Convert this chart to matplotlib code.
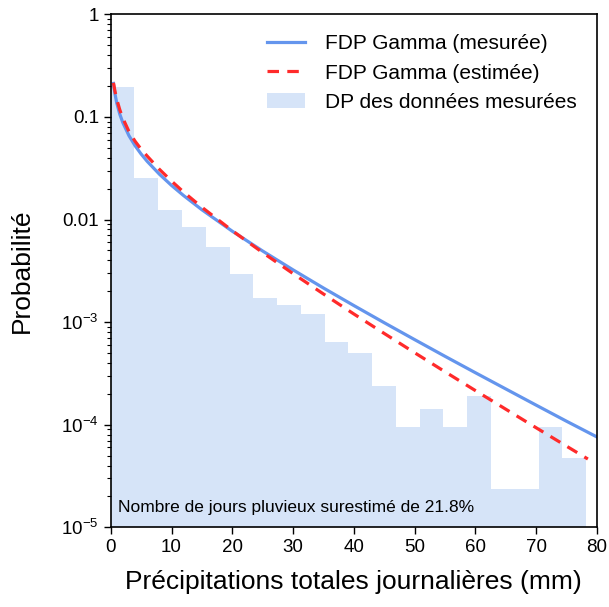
import numpy as np
import matplotlib
matplotlib.use("Agg")
import matplotlib.pyplot as plt
from matplotlib.ticker import FixedLocator, FixedFormatter, LogLocator, NullFormatter

plt.rcParams["font.family"] = ["Liberation Sans", "DejaVu Sans"]
plt.rcParams["mathtext.fontset"] = "custom"
plt.rcParams["mathtext.rm"] = "Liberation Sans"
plt.rcParams["mathtext.it"] = "Liberation Sans"

# histogramme des données mesurées (20 classes de 3.91 mm)
bin_width = 3.91
hist_vals = [0.195, 0.0252, 0.0124, 0.0084, 0.00536, 0.00294, 0.00171, 0.00147,
             0.0012, 0.000635, 0.0005, 0.000238, 9.5e-5, 1.43e-4, 9.5e-5, 1.9e-4,
             2.38e-5, 2.38e-5, 9.5e-5, 4.77e-5]

# FDP Gamma (mesurée)
x_mes = [0.45, 0.7, 1, 1.5, 2, 3, 4, 5, 6, 8, 10, 12, 15, 20, 25, 30, 35, 40,
         45, 50, 55, 60, 65, 70, 75, 80]
y_mes = [0.212, 0.168, 0.136, 0.106, 0.0878, 0.0657, 0.0525, 0.0435, 0.0369,
         0.0277, 0.0215, 0.0171, 0.01245, 0.00769, 0.00493, 0.00323, 0.00215,
         0.00145, 9.86e-4, 6.75e-4, 4.64e-4, 3.21e-4, 2.23e-4, 1.55e-4,
         1.08e-4, 7.59e-5]

# FDP Gamma (estimée)
x_est = [0.45, 0.7, 1, 1.5, 2, 3, 4, 5, 6, 8, 10, 12, 15, 20, 25, 30, 35, 40,
         45, 50, 55, 60, 65, 70, 75, 78.5]
y_est = [0.215, 0.178, 0.148, 0.117, 0.097, 0.072, 0.058, 0.0485, 0.0415,
         0.0309, 0.0237, 0.0185, 0.01317, 0.00778, 0.00476, 0.00297, 0.00188,
         0.0012, 7.75e-4, 5.03e-4, 3.28e-4, 2.15e-4, 1.415e-4, 9.33e-5,
         6.17e-5, 4.63e-5]

ytick_vals = [1e-5, 1e-4, 1e-3, 1e-2, 1e-1, 1]
ytick_txt = ["$10^{-5}$", "$10^{-4}$", "$10^{-3}$", "0.01", "0.1", "1"]

fig = plt.figure(figsize=(6.09, 6.07), dpi=100)
ax = fig.add_axes([0.1818, 0.1313, 0.7985, 0.8451])

edges = np.arange(len(hist_vals)) * bin_width
ax.bar(edges, hist_vals, width=bin_width, align="edge", color="#d6e4f8",
       edgecolor="none", label="DP des données mesurées", zorder=1)
ax.plot(x_mes, y_mes, color="#6495ed", lw=2.3, label="FDP Gamma (mesurée)", zorder=2)
ax.plot(x_est, y_est, color="#ff2a2a", lw=2.3, ls=(0, (3.6, 2.6)),
        label="FDP Gamma (estimée)", zorder=3)

ax.set_yscale("log")
ax.set_xlim(0, 80)
ax.set_ylim(1e-5, 1)
ax.yaxis.set_major_locator(FixedLocator(ytick_vals))
ax.yaxis.set_major_formatter(FixedFormatter(ytick_txt))
ax.yaxis.set_minor_locator(LogLocator(base=10, subs=np.arange(2, 10)))
ax.yaxis.set_minor_formatter(NullFormatter())
ax.set_xticks(range(0, 81, 10))
ax.tick_params(axis="both", which="major", labelsize=13.5, length=5, width=1, direction="out")
ax.tick_params(axis="y", which="minor", length=3, width=0.8, direction="out")
for s in ax.spines.values():
    s.set_linewidth(1.2)

ax.set_xlabel("Précipitations totales journalières (mm)", fontsize=19, labelpad=10)
ax.set_ylabel("Probabilité", fontsize=19, labelpad=20)

ax.text(0.015, 0.038, "Nombre de jours pluvieux surestimé de 21.8%",
        transform=ax.transAxes, fontsize=12.5, va="center", ha="left")

h, l = ax.get_legend_handles_labels()
ax.legend(h, l, loc="upper right",
          frameon=False, fontsize=15, handlelength=1.8, handletextpad=1.0,
          labelspacing=0.5, borderaxespad=0.55)

fig.savefig("out.png", dpi=100)
